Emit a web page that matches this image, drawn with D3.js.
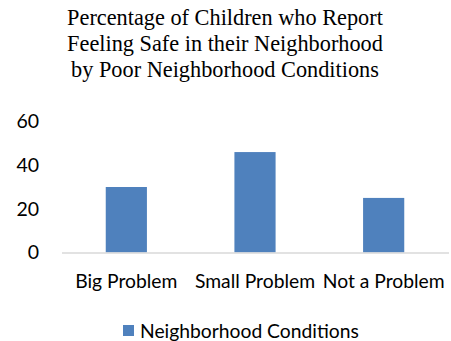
<!DOCTYPE html>
<html>
<head>
<meta charset="utf-8">
<script src="https://cdn.jsdelivr.net/npm/d3@7"></script>
<style>
  body { margin: 0; background: #fff; }
  text { fill: #000; }
</style>
</head>
<body>
<div class="chart"></div>
<script>
var titleLines = ['Percentage of Children who Report', 'Feeling Safe in their Neighborhood', 'by Poor Neighborhood Conditions']
var categories = ['Big Problem', 'Small Problem', 'Not a Problem']
var values = [30, 46, 25]
var yTicks = [0, 20, 40, 60]
var seriesName = 'Neighborhood Conditions'

var width = 451, height = 341
var svg = d3.select('.chart').append('svg')
  .attr('width', width).attr('height', height)

var x = d3.scaleBand().domain(categories).range([62, 448]).paddingInner(0.68).paddingOuter(0.34)
var y = d3.scaleLinear().domain([0, 60]).range([252.5, 121.5])

svg.append('g').selectAll('text')
  .data(titleLines).join('text')
  .attr('x', 225).attr('y', (d, i) => 25 + i * 26)
  .attr('text-anchor', 'middle')
  .style('font-family', '"Liberation Serif", "Times New Roman", serif')
  .style('font-size', '22.3px')
  .text(d => d)

svg.append('g').selectAll('text')
  .data(yTicks).join('text')
  .attr('x', 39).attr('y', d => y(d)).attr('dy', '0.35em')
  .attr('text-anchor', 'end')
  .style('font-family', 'Lato, sans-serif')
  .style('font-size', '19.5px')
  .text(d => d)

svg.append('g').selectAll('rect')
  .data(values).join('rect')
  .attr('x', (d, i) => x(categories[i]))
  .attr('width', x.bandwidth())
  .attr('y', d => y(d))
  .attr('height', d => y(0) - y(d))
  .attr('fill', '#4f81bd')

svg.append('line')
  .attr('x1', 62).attr('x2', 449)
  .attr('y1', 253).attr('y2', 253)
  .attr('stroke', '#d9d9d9').attr('stroke-width', 1.5)

svg.append('g').selectAll('text')
  .data(categories).join('text')
  .attr('x', d => x(d) + x.bandwidth() / 2).attr('y', 281).attr('dy', '0.35em')
  .attr('text-anchor', 'middle')
  .style('font-family', 'Lato, sans-serif')
  .style('font-size', '19.3px')
  .text(d => d)

var leg = svg.append('g')
leg.append('rect').attr('x', 123).attr('y', 325).attr('width', 11).attr('height', 11).attr('fill', '#4f81bd')
leg.append('text').attr('x', 140).attr('y', 331).attr('dy', '0.35em')
  .style('font-family', 'Lato, sans-serif')
  .style('font-size', '19.3px')
  .text(seriesName)
</script>
</body>
</html>
